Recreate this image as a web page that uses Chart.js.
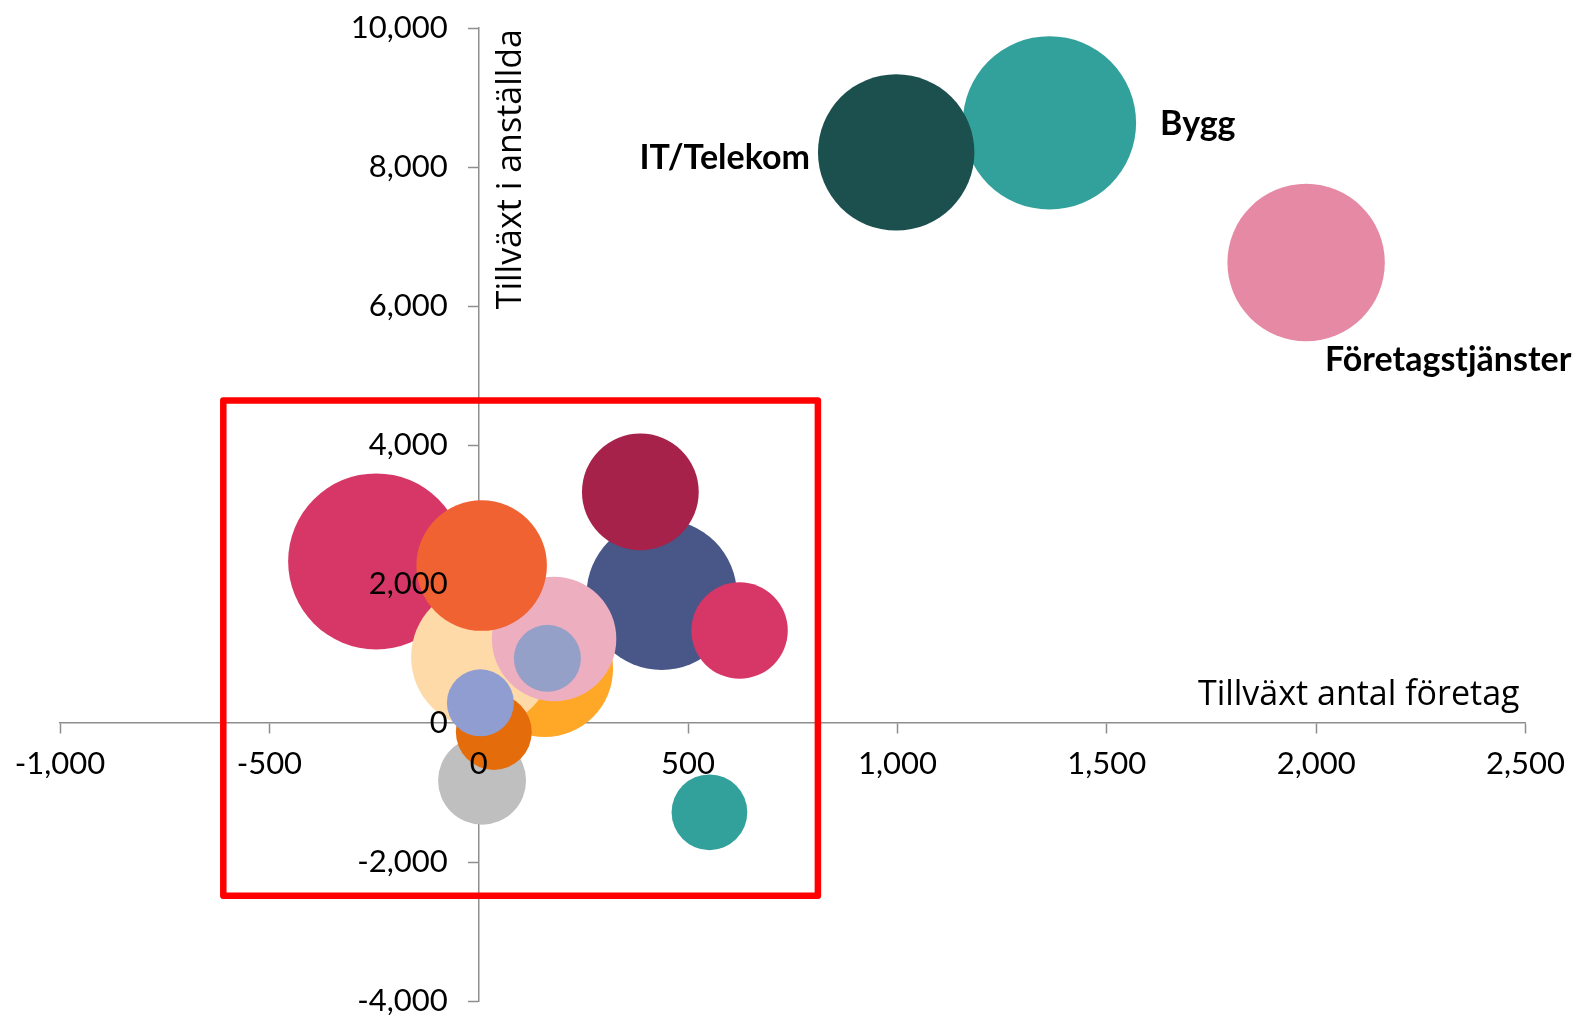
<!DOCTYPE html>
<html>
<head>
<meta charset="utf-8">
<script src="https://cdn.jsdelivr.net/npm/chart.js@4"></script>
<style>
  html, body { margin: 0; padding: 0; background: #fff; }
  #wrap { position: relative; width: 1577px; height: 1015px; }
</style>
</head>
<body>
<div id="wrap"><canvas id="bubbles"></canvas></div>
<script>
// Tillväxt per bransch — order = drawing order (last is on top)
const branscher = ['', '', '', '', '', '', '', '', '', '', '', '', '', 'Bygg', 'IT/Telekom', 'Företagstjänster'];
const tillvaxtForetag   = [-245, 158, 8, 437, 180, 7, 386, 623, 164, 8, 36, 4, 551, 1363, 997, 1976];
const tillvaxtAnstallda = [2325, 780, 950, 1845, 1210, 2265, 3325, 1330, 930, -830, -130, 290, -1285, 8635, 8210, 6625];
const storlek           = [100, 60, 65, 73, 50, 55, 44, 30, 14.5, 25, 18.6, 14.5, 18.5, 97, 79, 80];
const xTicks = [-1000, -500, 0, 500, 1000, 1500, 2000, 2500];
const yTicks = [-4000, -2000, 0, 2000, 4000, 6000, 8000, 10000];
const markering = { x: [-610, 810], y: [-2485, 4640] }; // red box, data units

const farger = ['#D73767', '#FFA726', '#FDDAA8', '#485688', '#EDAFC0', '#F16232', '#A7224A', '#D73767',
                '#94A0C7', '#BFBFBF', '#E46C0B', '#909DD1', '#32A19B', '#32A19B', '#1B504E', '#E689A4'];
const maxRadie = 88;
const fmt = v => v.toLocaleString('en-US');
const axisColor = '#8E8E8E';

// label placement next to the bubble
const placering = {
  'IT/Telekom':       (p, r) => ({ x: p.x - r - 8, y: p.y + 17, align: 'right' }),
  'Bygg':             (p, r) => ({ x: p.x + r + 24, y: p.y + 12, align: 'left' }),
  'Företagstjänster': (p, r) => ({ x: p.x + 19, y: p.y + r + 30, align: 'left' })
};

const overlay = {
  id: 'overlay',
  afterDatasetsDraw(chart) {
    const { ctx, scales: { x, y } } = chart;
    const x0 = x.getPixelForValue(0), y0 = y.getPixelForValue(0);
    ctx.save();
    ctx.fillStyle = '#000';

    // y tick labels, right of them sits the axis
    ctx.font = '31px Lato';
    ctx.textAlign = 'right'; ctx.textBaseline = 'middle';
    yTicks.forEach(v => ctx.fillText(fmt(v), x0 - 31, y.getPixelForValue(v)));

    // axis titles
    ctx.font = "34px 'Open Sans'";
    ctx.textBaseline = 'alphabetic';
    ctx.textAlign = 'right';
    ctx.fillText('Tillväxt antal företag', x.right - 6, y0 - 18.5);
    ctx.save();
    ctx.translate(x0 + 42, y.top + 1);
    ctx.rotate(-Math.PI / 2);
    ctx.textAlign = 'right';
    ctx.fillText('Tillväxt i anställda', 0, 0);
    ctx.restore();

    // bubble labels
    const meta = chart.getDatasetMeta(0);
    ctx.font = 'bold 34px Lato';
    branscher.forEach((namn, i) => {
      if (!namn || !placering[namn]) return;
      const el = meta.data[i];
      const p = placering[namn](el, el.options.radius);
      ctx.textAlign = p.align;
      ctx.fillText(namn, p.x, p.y);
    });

    // red box
    const l = x.getPixelForValue(markering.x[0]), r = x.getPixelForValue(markering.x[1]);
    const t = y.getPixelForValue(markering.y[1]), b = y.getPixelForValue(markering.y[0]);
    ctx.strokeStyle = '#FF0000';
    ctx.lineWidth = 6.5;
    ctx.lineJoin = 'round';
    ctx.strokeRect(l, t, r - l, b - t);
    ctx.restore();
  }
};

new Chart(document.getElementById('bubbles'), {
  type: 'bubble',
  data: {
    datasets: [{
      data: tillvaxtForetag.map((v, i) => ({
        x: v, y: tillvaxtAnstallda[i], r: maxRadie * Math.sqrt(storlek[i] / 100)
      })),
      backgroundColor: farger,
      borderWidth: 0,
      hoverBorderWidth: 0
    }]
  },
  options: {
    responsive: true, maintainAspectRatio: false,
    animation: false,
    layout: { autoPadding: false, padding: { left: 60, right: 50, top: 28, bottom: 14 } },
    plugins: { legend: { display: false }, tooltip: { enabled: false } },
    scales: {
      x: {
        type: 'linear', min: -1000, max: 2500,
        position: { y: 0 },
        afterBuildTicks: s => { s.ticks = xTicks.map(v => ({ value: v })); },
        grid: { drawOnChartArea: false, drawTicks: true, tickLength: 10, tickColor: axisColor, tickWidth: 1.5 },
        border: { color: axisColor, width: 1.5 },
        ticks: { z: 1, padding: 12, color: '#000', font: { family: 'Lato', size: 31 }, callback: v => fmt(v), maxRotation: 0, autoSkip: false }
      },
      y: {
        type: 'linear', min: -4000, max: 10000,
        position: { x: 0 },
        afterBuildTicks: s => { s.ticks = yTicks.map(v => ({ value: v })); },
        grid: { drawOnChartArea: false, drawTicks: true, tickLength: 10, tickColor: axisColor, tickWidth: 1.5 },
        border: { color: axisColor, width: 1.5 },
        ticks: { display: false }
      }
    }
  },
  plugins: [overlay]
});
</script>
</body>
</html>
